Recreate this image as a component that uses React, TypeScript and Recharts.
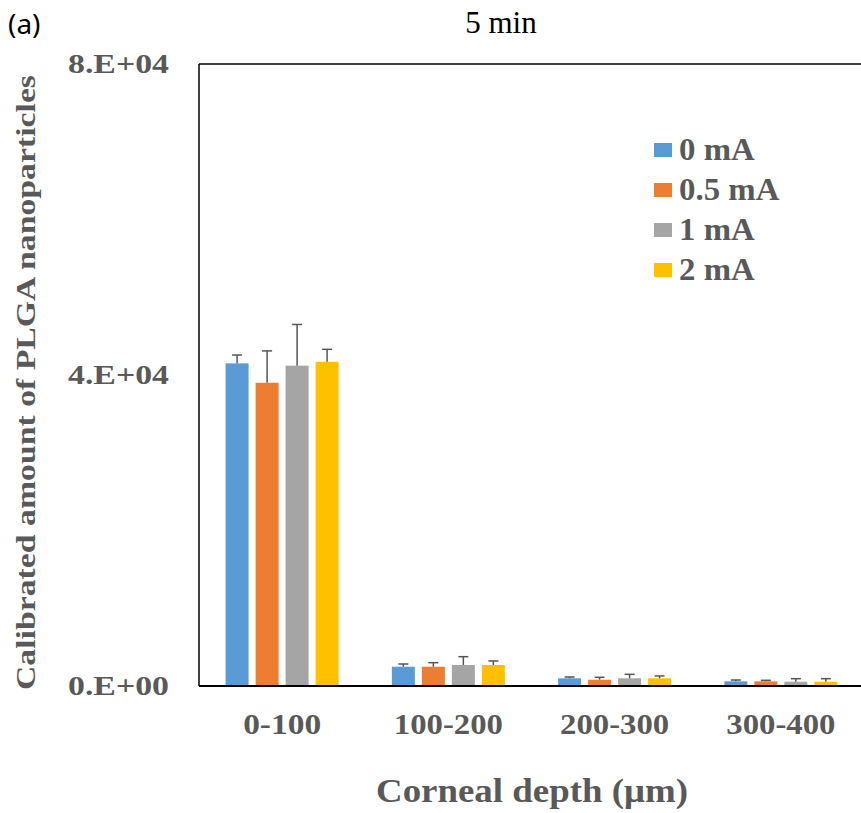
import React from 'react';
import { BarChart, Bar, XAxis, YAxis, ReferenceLine, Label } from 'recharts';

const categories = ['0-100', '100-200', '200-300', '300-400'];
const seriesNames = ['0 mA', '0.5 mA', '1 mA', '2 mA'];
const values0 = [41500, 2480, 990, 600];
const errors0 = [1070, 350, 170, 170];
const values05 = [39000, 2480, 810, 600];
const errors05 = [4100, 520, 310, 130];
const values1 = [41200, 2700, 990, 550];
const errors1 = [5300, 1070, 510, 390];
const values2 = [41700, 2700, 990, 550];
const errors2 = [1600, 520, 300, 390];
const yTicks = [0, 40000, 80000];

const colors = ['#5B9BD5', '#ED7D31', '#A5A5A5', '#FFC000'];
const keys = ['s0', 's05', 's1', 's2'];

const data = categories.map((c, i) => ({
  cat: c,
  s0: values0[i], e_s0: errors0[i],
  s05: values05[i], e_s05: errors05[i],
  s1: values1[i], e_s1: errors1[i],
  s2: values2[i], e_s2: errors2[i],
}));

const FONT = '"Liberation Serif", "Times New Roman", serif';
const TEXT = '#595959';

const fmtSci = (v: number) => {
  if (v === 0) return '0.E+00';
  const exp = Math.floor(Math.log10(v));
  const m = Math.round(v / Math.pow(10, exp));
  return `${m}.E+${String(exp).padStart(2, '0')}`;
};

const makeShape = (key: string) => (props: any) => {
  const { x, y, width, height, payload, fill } = props;
  const v = payload[key];
  const err = payload['e_' + key];
  const pxPer = v ? height / v : 0;
  const errPx = err * pxPer;
  const cx = x + width / 2;
  return (
    <g>
      <rect x={x} y={y} width={width} height={height} fill={fill} />
      <line x1={cx} x2={cx} y1={y} y2={y - errPx} stroke="#555" strokeWidth={1.5} />
      <line x1={cx - 5} x2={cx + 5} y1={y - errPx} y2={y - errPx} stroke="#555" strokeWidth={1.5} />
    </g>
  );
};

const YTick = (props: any) => {
  const { x, y, payload } = props;
  return (
    <text x={x - 30} y={y + 9} textAnchor="end" fontFamily={FONT} fontWeight="bold" fontSize={27}
      fill={TEXT} textLength={101} lengthAdjust="spacingAndGlyphs">
      {fmtSci(payload.value)}
    </text>
  );
};

const XTick = (props: any) => {
  const { x, y, payload } = props;
  const s = String(payload.value);
  return (
    <text x={x} y={y + 48} textAnchor="middle" fontFamily={FONT} fontWeight="bold" fontSize={30}
      fill={TEXT} textLength={s.length * 15.6} lengthAdjust="spacingAndGlyphs">
      {s}
    </text>
  );
};

const Legend4 = () => (
  <div style={{ position: 'absolute', left: 646, top: 122, fontFamily: FONT, fontWeight: 'bold', color: TEXT }}>
    {seriesNames.map((n, i) => (
      <div key={n} style={{ height: 40, display: 'flex', alignItems: 'center' }}>
        <span style={{ display: 'inline-block', width: 18, height: 14, background: colors[i], marginRight: 7 }} />
        <span style={{ fontSize: 31, lineHeight: '40px', display: 'inline-block', transform: 'scaleX(1.06)', transformOrigin: 'left center' }}>{n}</span>
      </div>
    ))}
  </div>
);

export default function App() {
  return (
    <div style={{ position: 'fixed', left: 0, top: 0, width: 861, height: 813, overflow: 'hidden', background: '#fff' }}>
      <div style={{ position: 'absolute', left: 8, top: 8, width: 856, height: 805 }}>
        <div style={{ position: 'absolute', left: 0, top: -3, fontFamily: '"Noto Sans", sans-serif', fontSize: 28, lineHeight: '36px', color: '#000' }}>(a)</div>
        <div style={{ position: 'absolute', left: 493 - 100, width: 200, top: -5, textAlign: 'center', fontFamily: FONT, fontSize: 31, lineHeight: '40px', color: '#000' }}>5 min</div>
        <BarChart width={856} height={805} data={data} margin={{ top: 56, right: 0, left: 0, bottom: 0 }}
          barCategoryGap={26.6} barGap={7}>
          <XAxis dataKey="cat" height={127} tickLine={false} tickSize={0} tickMargin={0}
            axisLine={{ stroke: '#000', strokeWidth: 2 }} tick={<XTick />} interval={0}>
            <Label content={(p: any) => {
              const vb = p.viewBox;
              return (
                <text x={524} y={vb.y + 116} textAnchor="middle" fontFamily={FONT} fontWeight="bold" fontSize={34}
                  fill={TEXT} textLength={312} lengthAdjust="spacingAndGlyphs">Corneal depth (μm)</text>
              );
            }} />
          </XAxis>
          <YAxis width={191} domain={[0, 80000]} ticks={yTicks} tickLine={false} tickSize={0} tickMargin={0}
            axisLine={{ stroke: '#000', strokeWidth: 1.5 }} tick={<YTick />} interval={0}>
            <Label content={() => (
              <text x={27} y={374.5} transform="rotate(-90 27 374.5)" textAnchor="middle" fontFamily={FONT}
                fontWeight="bold" fontSize={27} fill={TEXT} textLength={615} lengthAdjust="spacingAndGlyphs">
                Calibrated amount of PLGA nanoparticles
              </text>
            )} />
          </YAxis>
          <ReferenceLine y={80000} stroke="#000" strokeWidth={1.5} />
          {keys.map((k, i) => (
            <Bar key={k} dataKey={k} name={seriesNames[i]} fill={colors[i]} isAnimationActive={false} shape={makeShape(k)} />
          ))}
        </BarChart>
        <Legend4 />
      </div>
    </div>
  );
}
